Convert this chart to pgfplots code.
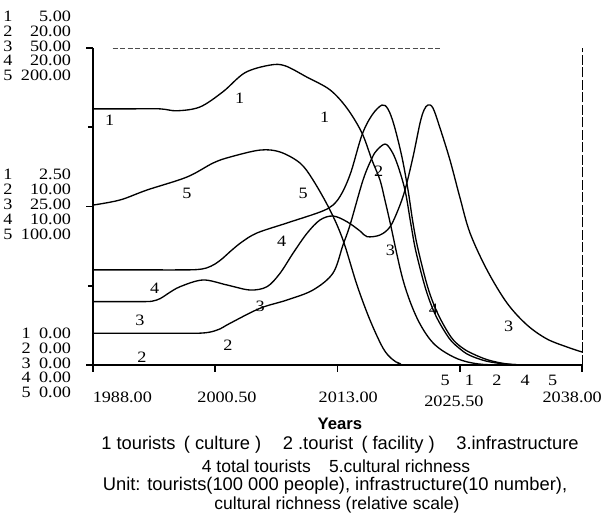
\documentclass[border=0pt]{standalone}
\usepackage{pgfplots}
\pgfplotsset{compat=1.18}
\usepackage{pgfplotstable}
\usepackage{fontspec}
\setmainfont{Liberation Sans}
\newfontfamily\tickfont{Liberation Serif}[FakeStretch=1.15]

% 1 tourists (culture), 100 000 people, scale 0-5
\pgfplotstableread{
year v
1988.00 4.04
1991.78 4.04
1994.85 4.04
1996.59 4.01
1998.94 4.07
2001.29 4.31
2003.54 4.61
2006.09 4.73
2007.63 4.72
2009.88 4.54
2012.23 4.34
2013.97 4.05
2015.50 3.66
2016.53 3.23
2017.34 2.92
2017.85 2.60
2018.36 2.26
2019.70 1.34
2021.13 0.74
2022.76 0.35
2024.81 0.13
2026.85 0.03
2029.62 0.00
2038.00 0.00
}\culture

% 2 tourists (facility), scale 0-20
\pgfplotstableread{
year v
1988.00 2.00
1993.00 2.00
1997.50 2.00
1999.00 2.01
2000.00 2.08
2001.00 2.28
2002.01 2.63
2005.08 3.58
2007.84 4.10
2010.49 4.73
2012.54 5.80
2013.56 7.57
2014.28 8.83
2015.61 11.67
2016.53 13.06
2017.04 13.56
2017.86 13.94
2018.47 13.56
2019.08 12.74
2019.90 11.04
2020.52 8.83
2021.03 7.13
2022.05 4.73
2023.07 3.09
2024.40 1.70
2025.42 1.07
2026.45 0.63
2028.18 0.25
2030.23 0.06
2032.68 0.00
2038.00 0.00
}\facility

% 3 infrastructure, 10 number, scale 0-50
\pgfplotstableread{
year v
1988.00 10.00
1990.50 10.00
1992.50 10.00
1994.00 10.05
1994.90 10.50
1995.60 11.20
1996.90 12.35
1999.25 13.41
2001.70 12.62
2004.05 11.83
2005.79 12.35
2007.12 14.46
2008.45 17.62
2009.88 20.77
2011.21 22.87
2012.54 23.50
2013.97 22.60
2015.30 21.14
2016.02 20.24
2017.34 20.50
2018.36 21.77
2019.19 24.45
2019.90 27.60
2020.72 32.81
2021.44 38.17
2021.85 40.22
2022.25 41.01
2022.76 40.54
2023.48 37.38
2024.50 32.33
2025.53 26.34
2026.55 20.82
2028.29 14.98
2030.33 9.78
2032.38 6.31
2034.42 4.10
2036.47 2.84
2038.00 2.05
}\infra

% 4 total tourists, scale 0-20
\pgfplotstableread{
year v
1988.00 6.00
1993.00 6.00
1997.00 6.00
1998.60 6.02
1999.60 6.12
2000.50 6.38
2001.30 6.75
2002.01 7.15
2003.20 7.75
2004.77 8.33
2007.84 8.96
2011.21 9.65
2012.54 10.09
2013.46 10.85
2014.38 12.18
2015.50 14.51
2016.53 15.77
2017.55 16.40
2018.16 16.15
2018.78 15.14
2019.59 13.12
2020.21 11.04
2020.72 8.96
2021.23 7.32
2022.25 4.86
2023.27 3.22
2024.60 1.77
2025.63 1.14
2026.65 0.76
2028.39 0.32
2030.43 0.06
2032.89 0.00
2038.00 0.00
}\total

% 5 cultural richness, relative scale 0-200
\pgfplotstableread{
year v
1988.00 100.9
1990.76 104.1
1993.52 110.4
1997.61 118.6
2000.27 127.4
2002.01 131.2
2005.08 135.6
2007.12 134.4
2009.17 127.4
2010.50 116.7
2012.23 97.8
2013.56 78.9
2014.99 50.5
2016.32 28.4
2017.65 10.7
2018.57 3.8
2019.39 0.9
2020.72 0.0
2038.00 0.0
}\richness

\newcommand\ylabbot{\fontsize{9.5}{8.7}\selectfont\begin{tabular}{@{}l@{\hspace{5pt}}r@{}}1&0.00\\2&0.00\\3&0.00\\4&0.00\\5&0.00\end{tabular}}
\newcommand\ylabmid{\fontsize{9.5}{8.7}\selectfont\begin{tabular}{@{}l@{\hspace{5pt}}r@{}}1&2.50\\2&10.00\\3&25.00\\4&10.00\\5&100.00\end{tabular}}
\newcommand\ylabtop{\fontsize{9.5}{8.7}\selectfont\begin{tabular}{@{}l@{\hspace{5pt}}r@{}}1&5.00\\2&20.00\\3&50.00\\4&20.00\\5&200.00\end{tabular}}

\pgfplotsset{curve/.style={black, line width=0.8pt, smooth, tension=0.55, mark=none}}

\begin{document}
\begin{tikzpicture}
\begin{axis}[
  at={(0,0)}, anchor=south west,
  scale only axis,
  width=293.4pt, height=190.2pt,
  xmin=1988, xmax=2038,
  ymin=0, ymax=1,
  axis lines=left,
  axis line style={-, line width=1.2pt},
  tick align=outside,
  xtick={1988,2000.5,2013,2025.5,2038},
  xticklabels={},
  ytick={0,0.5,1},
  minor ytick={0.25,0.75},
  yticklabels={\ylabbot,\ylabmid,\ylabtop},
  yticklabel style={font=\tickfont, anchor=east, inner sep=0pt, xshift=-9pt},
  major tick length=4pt,
  minor tick length=3pt,
  tick style={black, line width=1pt},
  clip mode=individual,
]
\addplot[curve] table [x=year, y expr=\thisrow{v}/5] {\culture};
\addplot[curve] table [x=year, y expr=\thisrow{v}/20] {\facility};
\addplot[curve] table [x=year, y expr=\thisrow{v}/50] {\infra};
\addplot[curve] table [x=year, y expr=\thisrow{v}/20] {\total};
\addplot[curve] table [x=year, y expr=\thisrow{v}/200] {\richness};

% frame of the plot area: broken top and right
\draw[black!70, line width=0.5pt, dash pattern=on 3pt off 1.5pt] (axis cs:1990,1) -- (axis cs:2023.7,1);
\draw[black, line width=0.6pt, dash pattern=on 6pt off 1.5pt] (rel axis cs:1,0) -- (rel axis cs:1,1);

% curve labels
\begin{scope}[every node/.style={font=\tickfont\fontsize{9.5}{10}\selectfont, inner sep=0pt}]
\node at (axis cs:1989.7,0.773) {1};
\node at (axis cs:2003.0,0.841) {1};
\node at (axis cs:2011.7,0.783) {1};
\node at (axis cs:1997.6,0.542) {5};
\node at (axis cs:2009.5,0.542) {5};
\node at (axis cs:1994.3,0.242) {4};
\node at (axis cs:2007.3,0.389) {4};
\node at (axis cs:2022.8,0.176) {4};
\node at (axis cs:1992.8,0.142) {3};
\node at (axis cs:2005.1,0.184) {3};
\node at (axis cs:2018.4,0.363) {3};
\node at (axis cs:2030.5,0.121) {3};
\node at (axis cs:1993.0,0.026) {2};
\node at (axis cs:2001.8,0.063) {2};
\node at (axis cs:2017.2,0.610) {2};
% labels of curves lying on zero
\node at (axis cs:2024.0,-0.047) {5};
\node at (axis cs:2026.5,-0.047) {1};
\node at (axis cs:2029.3,-0.047) {2};
\node at (axis cs:2032.2,-0.047) {4};
\node at (axis cs:2035.0,-0.047) {5};
% x tick labels
\node at (axis cs:1991.0,-0.101) {1988.00};
\node at (axis cs:2001.7,-0.101) {2000.50};
\node at (axis cs:2014.1,-0.101) {2013.00};
\node at (axis cs:2024.9,-0.116) {2025.50};
\node at (axis cs:2037.0,-0.101) {2038.00};
\end{scope}

% axis title and key
\node[font=\bfseries\fontsize{10}{12}\selectfont] at (axis description cs:0.505,-0.186) {Years};
\begin{scope}[every node/.style={font=\fontsize{10.5}{12}\selectfont, inner sep=0pt}]
\node[font=\fontsize{11}{12}\selectfont] at (axis description cs:0.505,-0.252) {1 tourists\hspace{5pt}(\hspace{3pt}culture\hspace{3pt})\hspace{13pt}2 .tourist\hspace{5pt}(\hspace{3pt}facility\hspace{3pt})\hspace{13pt}3.infrastructure};
\node at (axis description cs:0.497,-0.319) {4 total tourists\hspace{11pt}5.cultural richness};
\node[font=\fontsize{11}{12}\selectfont] at (axis description cs:0.495,-0.382) {Unit: tourists(100 000 people), infrastructure(10 number),};
\node at (axis description cs:0.499,-0.442) {cultural richness (relative scale)};
\end{scope}
\end{axis}
\pgfresetboundingbox
\path[use as bounding box] (-55.8pt,-93.6pt) rectangle (307.8pt,219pt);
\end{tikzpicture}
\end{document}
